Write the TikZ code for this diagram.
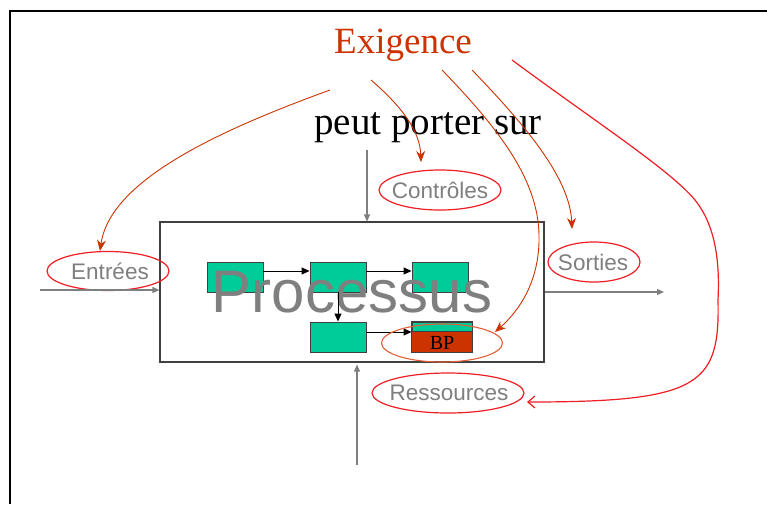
\documentclass[tikz,border=0pt]{standalone}
\usepackage{fontspec}
\setmainfont{Liberation Serif}
\newfontfamily\arialf{Liberation Sans}
\usetikzlibrary{arrows.meta,shapes.geometric,calc}
\definecolor{exred}{HTML}{CC3300}
\definecolor{elred}{HTML}{F01E24}
\definecolor{bpell}{HTML}{E0603A}
\definecolor{procgreen}{HTML}{00CC99}
\definecolor{lbl}{HTML}{7F7F7F}
\definecolor{frame}{HTML}{404040}
\tikzset{
  lblell/.style={draw=elred, line width=1.2pt, ellipse, inner sep=0pt},
  lbltext/.style={text=lbl, font=\arialf\fontsize{22.5}{22.5}\selectfont, inner sep=0pt},
  gbox/.style={draw=frame, fill=procgreen, line width=0.9pt, minimum width=56pt, minimum height=30pt, inner sep=0pt},
  blkarrow/.style={black, line width=0.9pt, -{Triangle[length=8pt,width=7pt]}},
  grayarrow/.style={lbl, line width=1.1pt, -{Triangle[length=7pt,width=6pt]}},
  exarrow/.style={exred, line width=0.9pt, -{Stealth[length=11pt,width=9pt]}},
  resarrow/.style={elred, line width=1.2pt, -{Straight Barb[length=7pt,width=12pt]}}
}
\begin{document}
\begin{tikzpicture}[x=1pt,y=-1pt]
\useasboundingbox (0,0) rectangle (767,504);
\fill[white] (0,0) rectangle (767,504);
\draw[line width=2.5pt] (10,504) -- (10,11) -- (767,11);

% titles
\node[anchor=base, text=exred, inner sep=0pt, font=\fontsize{37}{37}\selectfont] (exig) at (403,53) {Exigence};
\node[anchor=base, inner sep=0pt, font=\fontsize{39}{39}\selectfont] (porter) at (428,134) {peut porter sur};

% process box
\node[draw=frame, line width=1.1pt, minimum width=384pt, minimum height=140pt, inner sep=0pt] (proc) at (352,292) {};

% green boxes
\node[gbox] (b1) at (235,277) {};
\node[gbox] (b2) at (338,277) {};
\node[gbox] (b3) at (440,277) {};
\node[gbox] (b4) at (338,337) {};
\node[gbox, minimum width=60pt] (b5) at (442,337) {};
\fill[exred] (b5.south west) rectangle ($(b5.north east)+(0,10)$);
\draw[frame, line width=0.9pt] (b5.south west) rectangle (b5.north east);
\draw[frame, line width=0.9pt] ($(b5.north west)+(0,10)$) -- ($(b5.north east)+(0,10)$);
\node[anchor=base, inner sep=0pt, font=\fontsize{20}{20}\selectfont] (bp) at (442,349) {BP};

% Processus text
\node[anchor=base, inner sep=0pt, text=lbl, font=\arialf\fontsize{60}{60}\selectfont] (processus) at (352,312) {Processus};

% internal arrows
\draw[blkarrow] ([yshift=6pt]b1.east) -- ([yshift=6pt]b2.west);
\draw[blkarrow] ([yshift=6pt]b2.east) -- ([yshift=6pt]b3.west);
\draw[blkarrow] (b2.south) -- (b4.north);
\draw[blkarrow] ([yshift=5pt]b4.east) -- ([yshift=5pt]b5.west);

% ellipses
\node[lblell, minimum width=122pt, minimum height=40pt] (controles) at (440,190) {};
\node[lbltext] (controlestxt) at (440,190) {Contrôles};
\node[lblell, minimum width=122pt, minimum height=39pt] (entrees) at (108,271) {};
\node[lbltext] (entreestxt) at (110,271) {Entrées};
\node[lblell, minimum width=92pt, minimum height=40pt] (sorties) at (594,262) {};
\node[lbltext] (sortiestxt) at (593,262) {Sorties};
\node[lblell, minimum width=152pt, minimum height=40pt] (ressources) at (448,393) {};
\node[lbltext] (ressourcestxt) at (449,393) {Ressources};
\node[draw=bpell, line width=1.1pt, ellipse, inner sep=0pt, minimum width=121pt, minimum height=38pt] (bpell) at (442,343) {};

% gray flow arrows
\coordinate (ctop) at (367,150);
\coordinate (cin) at (40,290);
\coordinate (cout) at (664,292);
\coordinate (cres) at (357,465);
\draw[grayarrow] (ctop) -- (ctop |- proc.north);
\draw[grayarrow] (cin) -- (cin -| proc.west);
\draw[grayarrow] (cout -| proc.east) -- (cout);
\draw[grayarrow] (cres) -- ($(cres |- proc.south)+(0,2)$);

% Exigence arrows
\coordinate (s1) at (330,90);  \coordinate (t1) at (100,251);
\coordinate (s2) at (371,80);  \coordinate (t2) at (421,162);
\coordinate (s3) at (442,70);  \coordinate (t3) at (495,332);
\coordinate (s4) at (472,70);  \coordinate (t4) at (572,229);
\coordinate (s5) at (512,60);  \coordinate (t5) at (527,402);
\draw[exarrow] (s1) .. controls (220,130) and (110,180) .. (t1);
\draw[exarrow] (s2) .. controls (400,105) and (420,130) .. (t2);
\draw[exarrow] (s3) .. controls (500,130) and (538,180) .. (539,235) .. controls (540,280) and (520,310) .. (t3);
\draw[exarrow] (s4) .. controls (530,130) and (570,180) .. (t4);
\draw[resarrow] (s5) .. controls (600,125) and (670,170) .. (695,200) .. controls (715,225) and (720,260) .. (718,300) .. controls (720,385) and (700,402) .. (t5);
\end{tikzpicture}
\end{document}
